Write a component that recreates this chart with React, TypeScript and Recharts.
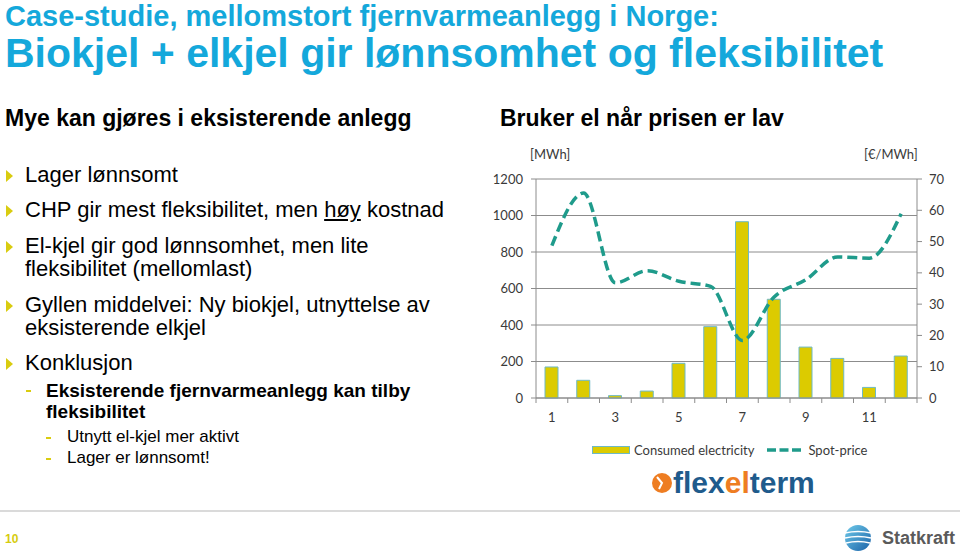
// Slide: district heating case study, with consumed electricity (bars) vs
// spot price (dashed line) per month on a dual-axis Recharts chart.

import { Bar, CartesianGrid, ComposedChart, Legend, Line, XAxis, YAxis } from 'recharts'

const months = ['1', '2', '3', '4', '5', '6', '7', '8', '9', '10', '11', '12']
const consumed = [170, 97, 13, 38, 190, 391, 966, 541, 279, 217, 58, 230]
const spotPrice = [48.7, 65.5, 36.8, 40.7, 37.3, 35.7, 18.4, 32.3, 37.8, 45.1, 44.7, 58.9]
const mwhTicks = [0, 200, 400, 600, 800, 1000, 1200]
const priceTicks = [0, 10, 20, 30, 40, 50, 60, 70]

const data = months.map((m, i) => ({ month: m, consumed: consumed[i], spot: spotPrice[i] }))

const CYAN = '#14A8DB'
const YELLOW = '#DCCB00'
const BAR_EDGE = '#6DB9C6'
const TEAL = '#1F9B8B'
const AXIS = '#8C8C8C'
const TICK_TEXT = '#3A3A3A'
const BULLET = '#D9CC10'

const PLOT_W = 381
const BAND = PLOT_W / months.length

const SANS = "'Liberation Sans', Arial, sans-serif"
const CHART_FONT = "Lato, 'Open Sans', sans-serif"

function XTick(props: any) {
  const { x, y, payload, index } = props
  const n = Number(payload.value)
  return (
    <g>
      <line x1={x - BAND / 2} x2={x - BAND / 2} y1={y} y2={y + 5} stroke={AXIS} />
      {index === months.length - 1 && (
        <line x1={x + BAND / 2} x2={x + BAND / 2} y1={y} y2={y + 5} stroke={AXIS} />
      )}
      {n % 2 === 1 && (
        <text x={x} y={y + 24} textAnchor="middle" fontSize={13} fill={TICK_TEXT} fontFamily={CHART_FONT}>
          {payload.value}
        </text>
      )}
    </g>
  )
}

function ChartLegend(props: any) {
  const items = props.payload ?? []
  return (
    <div style={{ display: 'flex', alignItems: 'center', height: 20, paddingLeft: 96, fontFamily: CHART_FONT, fontSize: 13, color: TICK_TEXT }}>
      {items.map((it: any) => (
        <span key={it.value} style={{ display: 'inline-flex', alignItems: 'center', marginRight: 13 }}>
          {it.dataKey === 'consumed' ? (
            <span style={{ width: 36, height: 6, background: YELLOW, border: `1px solid ${BAR_EDGE}`, marginRight: 4 }} />
          ) : (
            <svg width={34} height={8} style={{ marginRight: 7 }}>
              <line x1={0} x2={34} y1={4} y2={4} stroke={TEAL} strokeWidth={3.5} strokeDasharray="9 3.5" />
            </svg>
          )}
          {it.value}
        </span>
      ))}
    </div>
  )
}

function Txt({ x, base, size, bold, color = '#000', children }: any) {
  return (
    <div
      style={{
        position: 'absolute',
        left: x,
        top: base - size * 0.85,
        fontSize: size,
        lineHeight: 1,
        fontWeight: bold ? 700 : 400,
        fontFamily: SANS,
        color,
        whiteSpace: 'nowrap',
      }}
    >
      {children}
    </div>
  )
}

function Arrow({ y }: { y: number }) {
  return (
    <svg style={{ position: 'absolute', left: 6, top: y - 6 }} width={8} height={12}>
      <polygon points="0,0 7,6 0,12" fill={BULLET} />
    </svg>
  )
}

function Dash({ x, y }: { x: number; y: number }) {
  return <div style={{ position: 'absolute', left: x, top: y, width: 5, height: 2, background: BULLET }} />
}

export default function App() {
  return (
    <div style={{ position: 'absolute', left: 0, top: 0, width: 960, height: 556, background: '#fff', overflow: 'hidden' }}>
      <Txt x={5} base={27} size={29} bold color={CYAN}>Case-studie, mellomstort fjernvarmeanlegg i Norge:</Txt>
      <Txt x={5} base={68} size={41} bold color={CYAN}>Biokjel + elkjel gir lønnsomhet og fleksibilitet</Txt>

      <Txt x={5} base={127} size={23} bold>Mye kan gjøres i eksisterende anlegg</Txt>
      <Txt x={500} base={127} size={23} bold>Bruker el når prisen er lav</Txt>

      <Arrow y={176} />
      <Txt x={25} base={183} size={22}>Lager lønnsomt</Txt>
      <Arrow y={211} />
      <Txt x={25} base={218} size={22}>CHP gir mest fleksibilitet, men <u>høy</u> kostnad</Txt>
      <Arrow y={247} />
      <Txt x={25} base={254} size={22}>El-kjel gir god lønnsomhet, men lite</Txt>
      <Txt x={25} base={277} size={22}>fleksibilitet (mellomlast)</Txt>
      <Arrow y={306} />
      <Txt x={25} base={313} size={22}>Gyllen middelvei: Ny biokjel, utnyttelse av</Txt>
      <Txt x={25} base={336} size={22}>eksisterende elkjel</Txt>
      <Arrow y={364} />
      <Txt x={25} base={371} size={22}>Konklusjon</Txt>
      <Dash x={26} y={390} />
      <Txt x={46} base={397} size={19} bold>Eksisterende fjernvarmeanlegg kan tilby</Txt>
      <Txt x={46} base={418} size={19} bold>fleksibilitet</Txt>
      <Dash x={46} y={437} />
      <Txt x={67} base={442} size={17}>Utnytt el-kjel mer aktivt</Txt>
      <Dash x={46} y={458} />
      <Txt x={67} base={463} size={17}>Lager er lønnsomt!</Txt>

      <div style={{ position: 'absolute', left: 530, top: 146, fontFamily: CHART_FONT, fontSize: 13, color: TICK_TEXT }}>[MWh]</div>
      <div style={{ position: 'absolute', left: 864, top: 146, fontFamily: CHART_FONT, fontSize: 13, color: TICK_TEXT }}>[€/MWh]</div>

      <div style={{ position: 'absolute', left: 490, top: 140 }}>
        <ComposedChart width={470} height={330} data={data} margin={{ top: 39, right: 3, left: 6, bottom: 10 }}>
          <CartesianGrid yAxisId="left" vertical={false} stroke={AXIS} />
          <XAxis
            dataKey="month"
            interval={0}
            tickSize={0}
            tickMargin={0}
            height={42}
            stroke={AXIS}
            tick={<XTick />}
          />
          <YAxis
            yAxisId="left"
            domain={[0, 1200]}
            ticks={mwhTicks}
            width={40}
            tickSize={5}
            tickMargin={8}
            stroke={AXIS}
            tick={{ fontSize: 13, fill: TICK_TEXT, fontFamily: CHART_FONT }}
          />
          <YAxis
            yAxisId="right"
            orientation="right"
            domain={[0, 70]}
            ticks={priceTicks}
            width={40}
            tickSize={5}
            tickMargin={7}
            stroke={AXIS}
            tick={{ fontSize: 13, fill: TICK_TEXT, fontFamily: CHART_FONT }}
          />
          <Legend verticalAlign="bottom" height={20} content={<ChartLegend />} />
          <Bar
            yAxisId="left"
            dataKey="consumed"
            name="Consumed electricity"
            fill={YELLOW}
            stroke={BAR_EDGE}
            strokeWidth={1}
            barSize={13}
            isAnimationActive={false}
          />
          <Line
            yAxisId="right"
            dataKey="spot"
            name="Spot-price"
            type="monotone"
            stroke={TEAL}
            strokeWidth={3.5}
            strokeDasharray="10 5"
            dot={false}
            isAnimationActive={false}
          />
        </ComposedChart>
      </div>

      {/* flexelterm logo */}
      <svg style={{ position: 'absolute', left: 650, top: 471 }} width={24} height={24}>
        <circle cx={12} cy={12} r={10} fill="#EE7D22" />
        <path d="M7 6 L12 12 L9 18" stroke="#fff" strokeWidth={2} fill="none" />
      </svg>
      <Txt x={673} base={493} size={30} bold color="#1F5B8C">
        flex<span style={{ color: '#EE7D22' }}>el</span>term
      </Txt>

      <div style={{ position: 'absolute', left: 0, top: 510, width: 960, height: 2, background: '#DADADA' }} />
      <Txt x={5} base={543} size={12} bold color="#D6CC10">10</Txt>

      {/* Statkraft logo */}
      <svg style={{ position: 'absolute', left: 844, top: 524 }} width={28} height={28}>
        <defs>
          <linearGradient id="globe" x1="0" y1="0" x2="1" y2="1">
            <stop offset="0%" stopColor="#6FCBEA" />
            <stop offset="100%" stopColor="#1A62A8" />
          </linearGradient>
        </defs>
        <circle cx={14} cy={14} r={13} fill="url(#globe)" />
        <path d="M1 9 Q14 6 27 9" stroke="#fff" strokeWidth={1.5} fill="none" />
        <path d="M1 14 Q14 11 27 14" stroke="#fff" strokeWidth={1.5} fill="none" />
        <path d="M2 19 Q14 16 26 19" stroke="#fff" strokeWidth={1.5} fill="none" />
      </svg>
      <Txt x={882} base={544} size={18} bold color="#5A5A5A">Statkraft</Txt>
    </div>
  )
}
